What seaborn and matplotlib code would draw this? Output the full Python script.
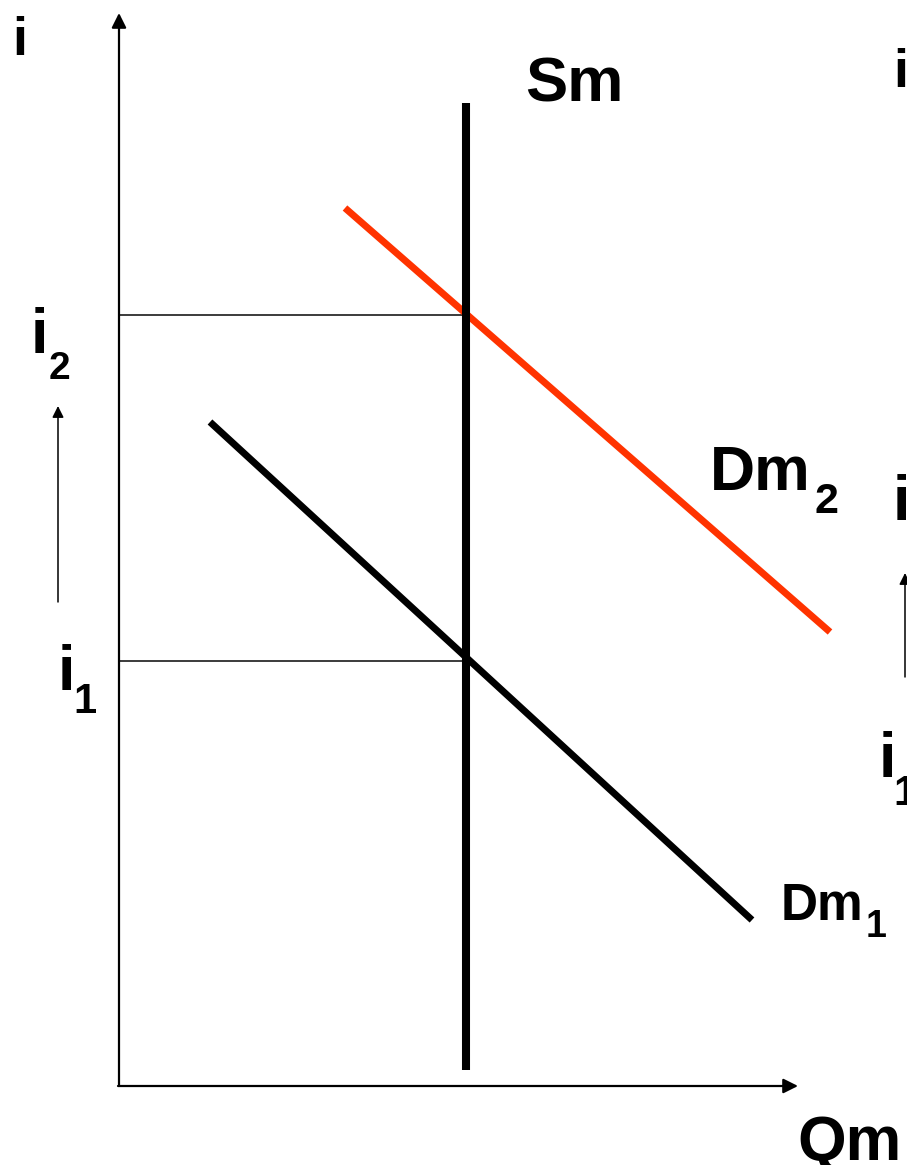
import pandas as pd
import seaborn as sns
import matplotlib.pyplot as plt

# money market diagram: quantity of money (Qm) vs interest rate (i)
sm_q = [3.47, 3.47]
sm_i = [0.15, 9.82]
dm1_q = [0.91, 6.33]
dm1_i = [6.63, 1.65]
dm2_q = [2.26, 7.11]
dm2_i = [8.77, 4.53]
rate_levels = [4.24, 7.70]   # i1, i2

sns.set_style("white")
plt.rcParams["font.family"] = ["Liberation Sans", "DejaVu Sans"]
plt.rcParams["font.weight"] = "bold"

fig = plt.figure(figsize=(9.07, 11.65), dpi=100)
ax = fig.add_axes([0, 0, 1, 1])
ax.set_xlim(-1.19, 7.88)
ax.set_ylim(-0.80, 10.85)
ax.axis("off")

curves = pd.concat([
    pd.DataFrame({"Q": sm_q, "i": sm_i, "curve": "Sm"}),
    pd.DataFrame({"Q": dm1_q, "i": dm1_i, "curve": "Dm1"}),
    pd.DataFrame({"Q": dm2_q, "i": dm2_i, "curve": "Dm2"}),
])

# guide lines from the axis to the equilibrium points
ax.hlines(rate_levels, 0, sm_q[0], color="#1a1a1a", lw=1.2, zorder=1)

widths = {"Sm": 5.8, "Dm1": 5.0, "Dm2": 5.0}
colors = {"Sm": "black", "Dm1": "black", "Dm2": "#ff3300"}
for name, grp in curves.groupby("curve", sort=False):
    sns.lineplot(data=grp, x="Q", y="i", ax=ax, estimator=None, sort=False,
                 color=colors[name], lw=widths[name], solid_capstyle="butt",
                 legend=False, zorder=3 if name == "Sm" else 2)

# axes arrows
arrow = dict(arrowstyle="-|>", color="black", shrinkA=0, shrinkB=0)
ax.annotate("", xy=(0, 10.72), xytext=(0, -0.01),
            arrowprops=dict(arrow, lw=1.6, mutation_scale=22))
ax.annotate("", xy=(6.79, -0.01), xytext=(-0.01, -0.01),
            arrowprops=dict(arrow, lw=1.6, mutation_scale=22))
# rising interest rate arrows
ax.annotate("", xy=(-0.61, 6.79), xytext=(-0.61, 4.83),
            arrowprops=dict(arrow, lw=1.1, mutation_scale=17))
ax.annotate("", xy=(7.86, 5.12), xytext=(7.86, 4.08),
            arrowprops=dict(arrow, lw=1.1, mutation_scale=17))

txt = dict(ha="left", va="baseline", fontweight="bold", color="black")
ax.text(-1.065, 10.30, "i", fontsize=39, **txt)
ax.text(4.06, 9.84, "Sm", fontsize=45.5, **txt)
ax.text(-0.885, 7.32, "i", fontsize=45, **txt)
ax.text(-0.705, 7.06, "2", fontsize=28, **txt)
ax.text(-0.615, 3.95, "i", fontsize=45, **txt)
ax.text(-0.46, 3.72, "1", fontsize=30, **txt)
ax.text(5.91, 5.95, "Dm", fontsize=45, **txt)
ax.text(6.95, 5.72, "2", fontsize=31, **txt)
ax.text(6.62, 1.65, "Dm", fontsize=37, **txt)
ax.text(7.47, 1.48, "1", fontsize=27, **txt)
ax.text(6.785, -0.75, "Qm", fontsize=45, **txt)
# labels of the neighbouring panel, cut off at the right edge
ax.text(7.74, 9.98, "i", fontsize=39, **txt)
ax.text(7.74, 5.65, "i", fontsize=45, **txt)
ax.text(7.60, 3.08, "i", fontsize=45, **txt)
ax.text(7.74, 2.80, "1", fontsize=30, **txt)

fig.savefig("out.png", dpi=100)
